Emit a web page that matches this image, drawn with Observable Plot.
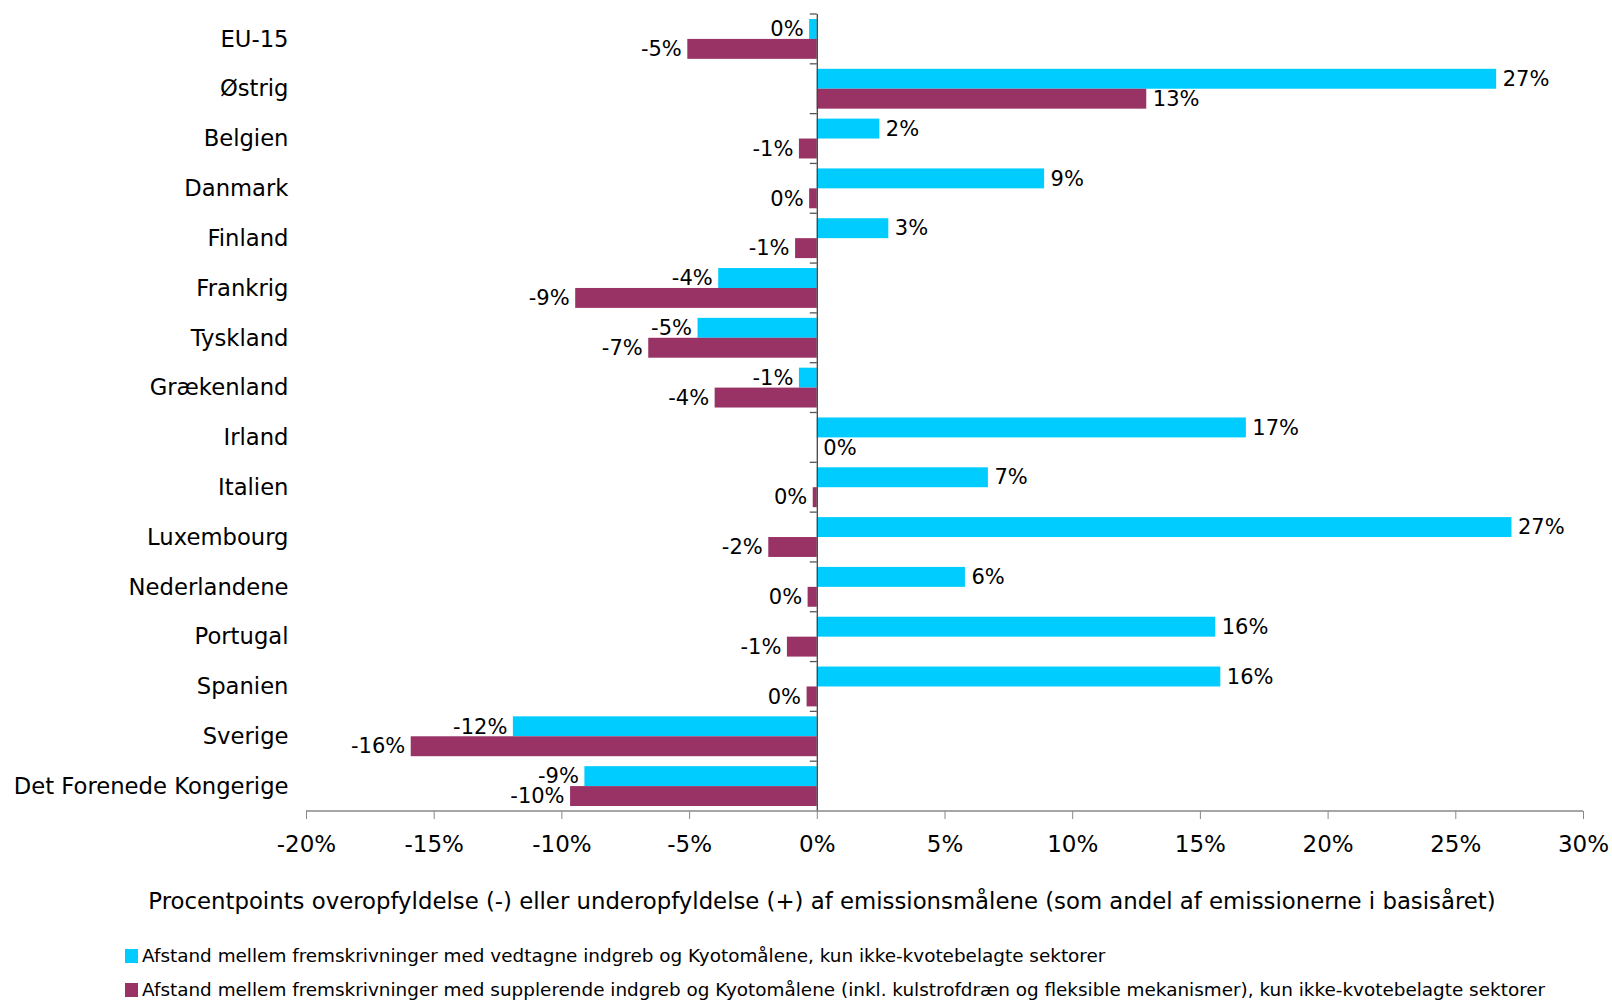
<!DOCTYPE html>
<html>
<head>
<meta charset="utf-8">
<script src="https://cdn.jsdelivr.net/npm/d3@7"></script>
<script src="https://cdn.jsdelivr.net/npm/@observablehq/plot@0.6"></script>
<style>
  body { margin: 0; background: #fff; font-family: "DejaVu Sans", Verdana, sans-serif; }
  #wrap { position: relative; width: 1612px; height: 1000px; }
  #chart { position: absolute; left: 0; top: 0; }
  #xtitle { position: absolute; left: 0; width: 1644px; top: 888px; text-align: center; font-size: 22.8px; color: #000; white-space: nowrap; }
  .leg { position: absolute; left: 125px; font-size: 18.4px; color: #000; white-space: nowrap; }
  .sw { display: inline-block; width: 13px; height: 14px; margin-right: 4px; vertical-align: -1px; }
</style>
</head>
<body>
<div id="wrap">
  <div id="chart"></div>
  <div id="xtitle">Procentpoints overopfyldelse (-) eller underopfyldelse (+) af emissionsmålene (som andel af emissionerne i basisåret)</div>
  <div class="leg" style="top:945px"><span class="sw" style="background:#00CCFF"></span>Afstand mellem fremskrivninger med vedtagne indgreb og Kyotomålene, kun ikke-kvotebelagte sektorer</div>
  <div class="leg" style="top:979px"><span class="sw" style="background:#993366"></span>Afstand mellem fremskrivninger med supplerende indgreb og Kyotomålene (inkl. kulstrofdræn og fleksible mekanismer), kun ikke-kvotebelagte sektorer</div>
</div>
<script>
const categories = ["EU-15", "Østrig", "Belgien", "Danmark", "Finland", "Frankrig", "Tyskland", "Grækenland", "Irland", "Italien", "Luxembourg", "Nederlandene", "Portugal", "Spanien", "Sverige", "Det Forenede Kongerige"];
const vedtagne = [-0.3, 26.6, 2.45, 8.9, 2.8, -3.86, -4.67, -0.7, 16.8, 6.7, 27.2, 5.8, 15.6, 15.8, -11.9, -9.1];
const supplerende = [-5.07, 12.9, -0.7, -0.3, -0.85, -9.46, -6.6, -4.0, 0.0, -0.16, -1.9, -0.36, -1.17, -0.4, -15.9, -9.66];
const xTicks = [-20, -15, -10, -5, 0, 5, 10, 15, 20, 25, 30];
const seriesNames = ["vedtagne", "supplerende"];
const seriesColors = ["#00CCFF", "#993366"];

const width = 1612, height = 870;
const mt = 14, mb = 59, ml = 306, mr = 29;
const n = categories.length;
const step = (height - mt - mb) / n;
const bw = step * 0.8;
const half = bw / 2;

const rowsA = categories.map((c, i) => ({category: c, value: vedtagne[i]}));
const rowsB = categories.map((c, i) => ({category: c, value: supplerende[i]}));
const fmt = v => { const r = Math.round(v); return (r === 0 ? 0 : r) + "%"; };
const FONT = "DejaVu Sans, Verdana, sans-serif";

function labels(rows, dy) {
  const common = {x: "value", y: "category", text: d => fmt(d.value), dy, fontSize: 21, fill: "#000"};
  return [
    Plot.text(rows.filter(d => d.value >= 0), {...common, dx: 6, textAnchor: "start"}),
    Plot.text(rows.filter(d => d.value < 0), {...common, dx: -6, textAnchor: "end"})
  ];
}

const axisDecor = (index, scales, values, dimensions) => {
  const g = d3.create("svg:g");
  const x0 = scales.x(0);
  const yb = dimensions.height - dimensions.marginBottom;
  g.append("line").attr("x1", scales.x(xTicks[0])).attr("x2", scales.x(xTicks[xTicks.length - 1]))
    .attr("y1", yb).attr("y2", yb).attr("stroke", "#888").attr("stroke-width", 1.5);
  const gap = (step - bw) / 2;
  categories.forEach(c => {
    const y = scales.y(c) - gap;
    g.append("line").attr("x1", x0 - 7).attr("x2", x0).attr("y1", y).attr("y2", y)
      .attr("stroke", "#555").attr("stroke-width", 1.3);
  });
  return g.node();
};

const chart = Plot.plot({
  width, height,
  marginTop: mt, marginBottom: mb, marginLeft: ml, marginRight: mr,
  style: {fontFamily: FONT, background: "#fff"},
  x: {domain: [-20, 30], ticks: xTicks},
  y: {type: "band", domain: categories, paddingInner: 0.2, paddingOuter: 0.1, round: false},
  marks: [
    Plot.barX(rowsA, {x: "value", y: "category", fill: seriesColors[0], insetBottom: half}),
    Plot.barX(rowsB, {x: "value", y: "category", fill: seriesColors[1], insetTop: half}),
    Plot.ruleX([0], {stroke: "#444", strokeWidth: 1.3}),
    axisDecor,
    ...labels(rowsA, -half / 2),
    ...labels(rowsB, half / 2),
    Plot.axisX({ticks: xTicks, tickFormat: d => d + "%", tickSize: 8, tickPadding: 16, fontSize: 23, stroke: "#888", fill: "#000", label: null}),
    Plot.axisY({tickSize: 0, tickPadding: 18, fontSize: 22.7, fill: "#000", label: null})
  ]
});
document.getElementById("chart").appendChild(chart);
</script>
</body>
</html>
